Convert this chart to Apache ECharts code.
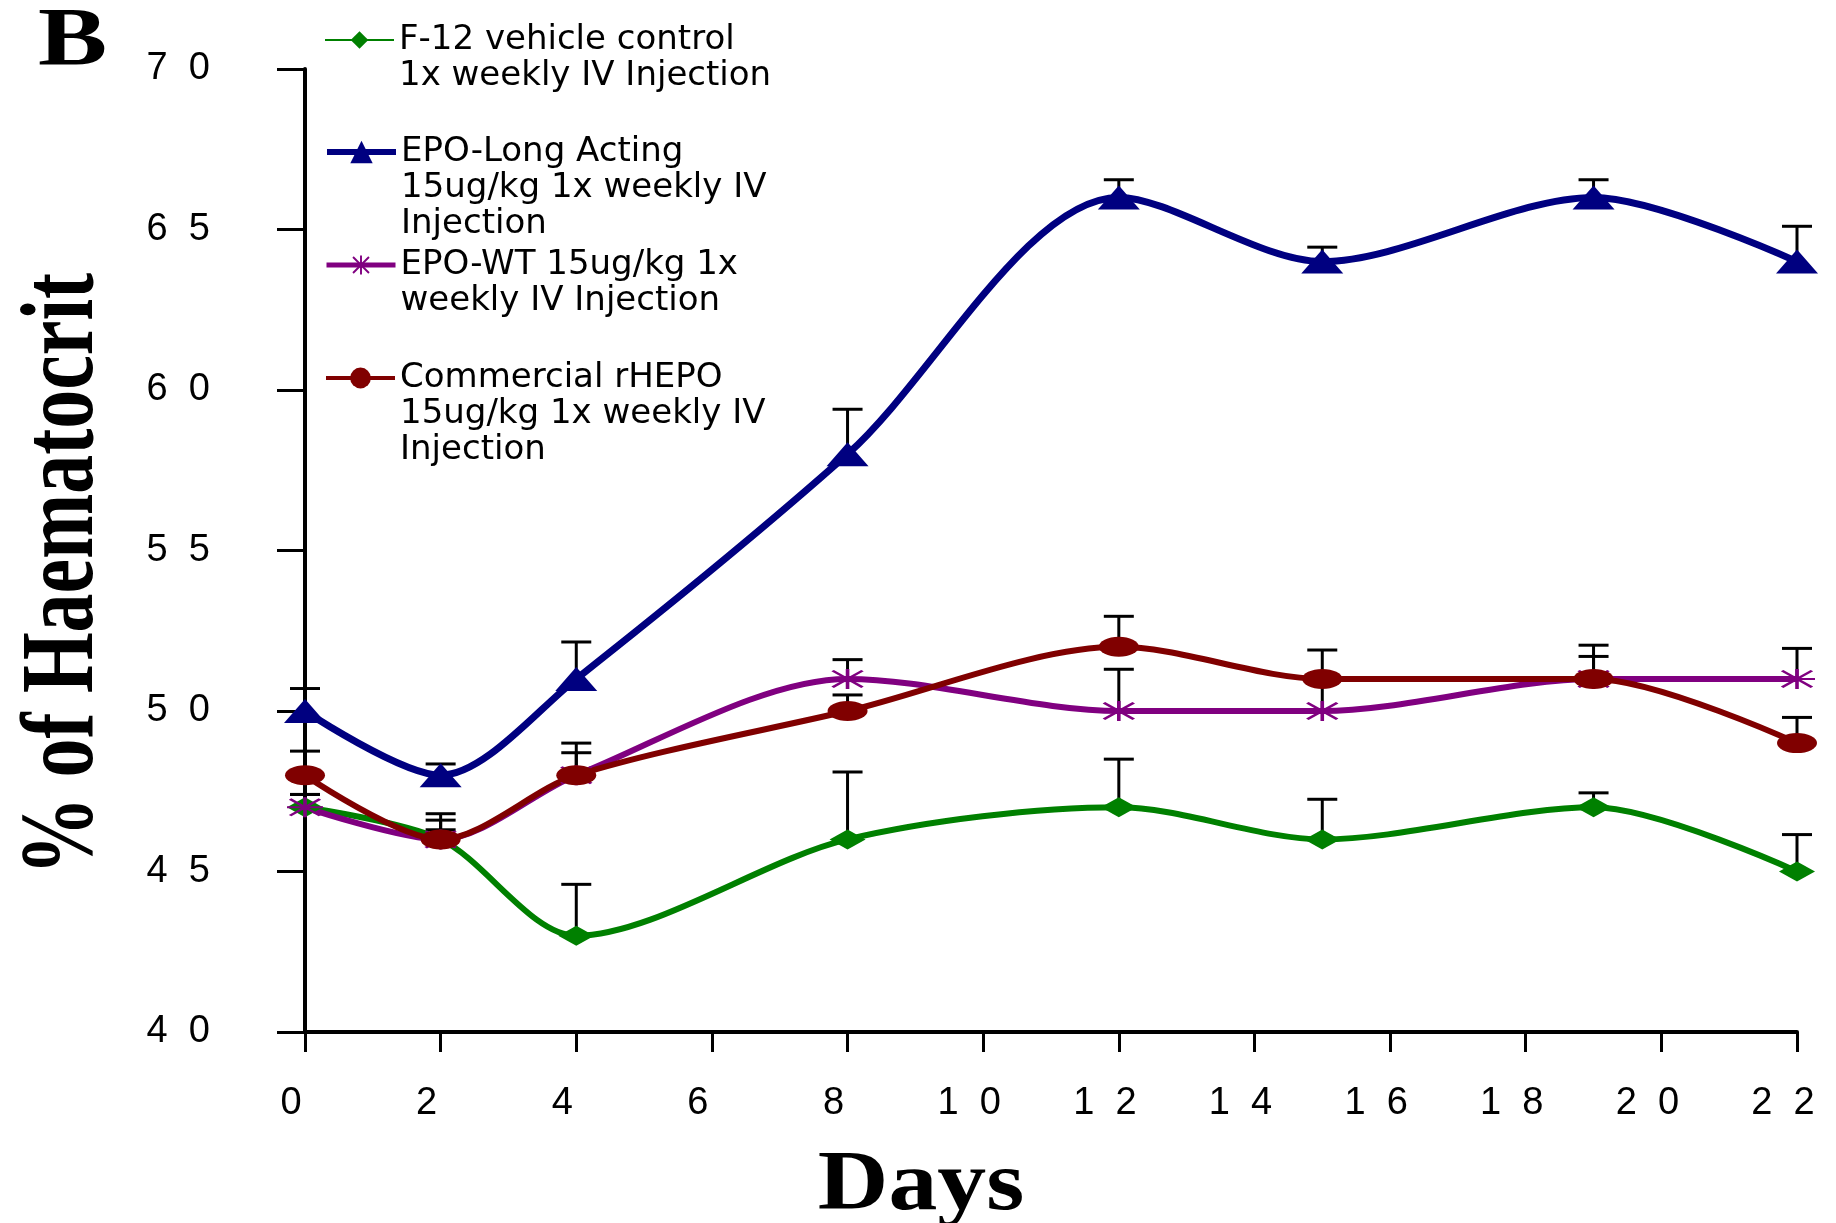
<!DOCTYPE html>
<html><head><meta charset="utf-8">
<script src="https://cdn.jsdelivr.net/npm/echarts@6/dist/echarts.min.js"></script>
<style>html,body{margin:0;padding:0;background:#fff}#chart{width:1836px;height:1223px}</style>
</head><body><div id="chart"></div>
<script>
// ---- data ----
const days = [0, 2, 4, 8, 12, 15, 19, 22];
const nameF12 = 'F-12 vehicle control\n1x weekly IV Injection';
const nameLong = 'EPO-Long Acting\n15ug/kg 1x weekly IV\nInjection';
const nameWT = 'EPO-WT 15ug/kg 1x\nweekly IV Injection';
const nameRhepo = 'Commercial rHEPO\n15ug/kg 1x weekly IV\nInjection';
const f12Values = [47, 46, 43, 46, 47, 46, 47, 45];
const f12Err = [0.4, 0.3, 1.6, 2.1, 1.5, 1.25, 0.45, 1.15];
const longValues = [50, 48, 51, 58, 66, 64, 66, 64];
const longErr = [0.7, 0.35, 1.15, 1.4, 0.55, 0.45, 0.55, 1.1];
const wtValues = [47, 46, 48, 51, 50, 50, 51, 51];
const wtErr = [0.4, 0.6, 0.7, 0.6, 1.3, 1.0, 0.7, 0.95];
const rhepoValues = [48, 46, 48, 50, 52, 51, 51, 49];
const rhepoErr = [0.75, 0.8, 1.0, 0.5, 0.95, 0.9, 1.05, 0.8];
const panelLabel = 'B';
const yTitle = '% of Haematocrit';
const xTitle = 'Days';

// ---- build ----
const pts = (vals) => days.map((d, i) => [d, vals[i]]);
const errPts = (vals, err) => days.map((d, i) => [d, vals[i], vals[i] + err[i]]);
const spaced = (v) => String(v).split('').join('  ');

function errRender(params, api) {
  const x = api.value(0), y = api.value(1), top = api.value(2);
  const p0 = api.coord([x, y]);
  const p1 = api.coord([x, top]);
  const hw = 15;
  return {
    type: 'group',
    children: [
      { type: 'line', shape: { x1: p0[0], y1: p0[1], x2: p1[0], y2: p1[1] }, style: { stroke: '#000', lineWidth: 3 } },
      { type: 'line', shape: { x1: p1[0] - hw, y1: p1[1], x2: p1[0] + hw, y2: p1[1] }, style: { stroke: '#000', lineWidth: 3 } }
    ]
  };
}
function errSeries(id, vals, err) {
  return { type: 'custom', name: id, z: 1, silent: true, renderItem: errRender,
    encode: { x: 0, y: [1, 2] }, data: errPts(vals, err) };
}
const asterisk = 'path://M9 0H11V20H9Z M0 9H20V11H0Z M1 2.4L2.4 1L19 17.6L17.6 19Z M17.6 1L19 2.4L2.4 19L1 17.6Z';
const ellipse = 'path://M0 50A50 50 0 1 1 100 50A50 50 0 1 1 0 50Z';

function lineSeries(name, vals, color, width, symbol, size) {
  return { type: 'line', name, z: 3, data: pts(vals), smooth: 0.3,
    symbol, symbolSize: size, showSymbol: true,
    lineStyle: { color, width }, itemStyle: { color, opacity: 1 },
    emphasis: { disabled: true } };
}
// legend: icon aligned with the first text line (empty lines prepended keep it centred)
function mkLegend(name, iconY, itemH, lineW) {
  const n = name.split('\n').length;
  return {
    data: [{ name, lineStyle: { width: lineW } }],
    left: 324, top: iconY - (2 * n - 1) * 18, padding: 0,
    itemWidth: 69, itemHeight: itemH, selectedMode: false,
    formatter: (nm) => '\n'.repeat(n - 1) + nm,
    textStyle: { fontFamily: 'DejaVu Sans', fontSize: 34, lineHeight: 36, color: '#000' }
  };
}

const chart = echarts.init(document.getElementById('chart'));
chart.setOption({
  backgroundColor: '#fff',
  animation: false,
  grid: { left: 305, right: 39, top: 69, bottom: 191, containLabel: false, outerBoundsMode: 'none' },
  xAxis: {
    type: 'value', min: 0, max: 22, interval: 2,
    axisLine: { show: true, lineStyle: { color: '#000', width: 4 } },
    axisTick: { show: true, inside: false, length: 20, lineStyle: { color: '#000', width: 3 } },
    splitLine: { show: false },
    axisLabel: { formatter: spaced, margin: 53, fontSize: 38, fontFamily: 'Liberation Sans', color: '#000', padding: [0, 28, 0, 0] }
  },
  yAxis: {
    type: 'value', min: 40, max: 70, interval: 5,
    axisLine: { show: true, lineStyle: { color: '#000', width: 4 } },
    axisTick: { show: true, inside: false, length: 28, lineStyle: { color: '#000', width: 3 } },
    splitLine: { show: false },
    axisLabel: { formatter: spaced, margin: 95, fontSize: 38, fontFamily: 'Liberation Sans', color: '#000' }
  },
  legend: [
    mkLegend(nameF12, 40, 22, 2),
    mkLegend(nameLong, 152, 28, 6),
    mkLegend(nameWT, 265, 24, 5),
    mkLegend(nameRhepo, 378, 26, 4)
  ],
  graphic: [
    { type: 'text', x: 38, y: 43, scaleX: 1.25, silent: true,
      style: { text: panelLabel, font: 'bold 83px "Liberation Serif"', fill: '#000', align: 'left', verticalAlign: 'middle' } },
    { type: 'text', x: 65, y: 574, rotation: Math.PI / 2, scaleX: 0.75, silent: true,
      style: { text: yTitle, font: 'bold 104px "Liberation Serif"', fill: '#000', align: 'center', verticalAlign: 'middle' } },
    { type: 'text', x: 921, y: 1187, scaleX: 1.15, silent: true,
      style: { text: xTitle, font: 'bold 85px "Liberation Serif"', fill: '#000', align: 'center', verticalAlign: 'middle' } }
  ],
  series: [
    errSeries('errF12', f12Values, f12Err),
    errSeries('errLong', longValues, longErr),
    errSeries('errWT', wtValues, wtErr),
    errSeries('errRhepo', rhepoValues, rhepoErr),
    lineSeries(nameF12, f12Values, '#008000', 6, 'diamond', [36, 20]),
    lineSeries(nameLong, longValues, '#000080', 7, 'triangle', [42, 24]),
    lineSeries(nameWT, wtValues, '#800080', 6, asterisk, [36, 20]),
    lineSeries(nameRhepo, rhepoValues, '#800000', 6, ellipse, [40, 20])
  ]
});
</script></body></html>
